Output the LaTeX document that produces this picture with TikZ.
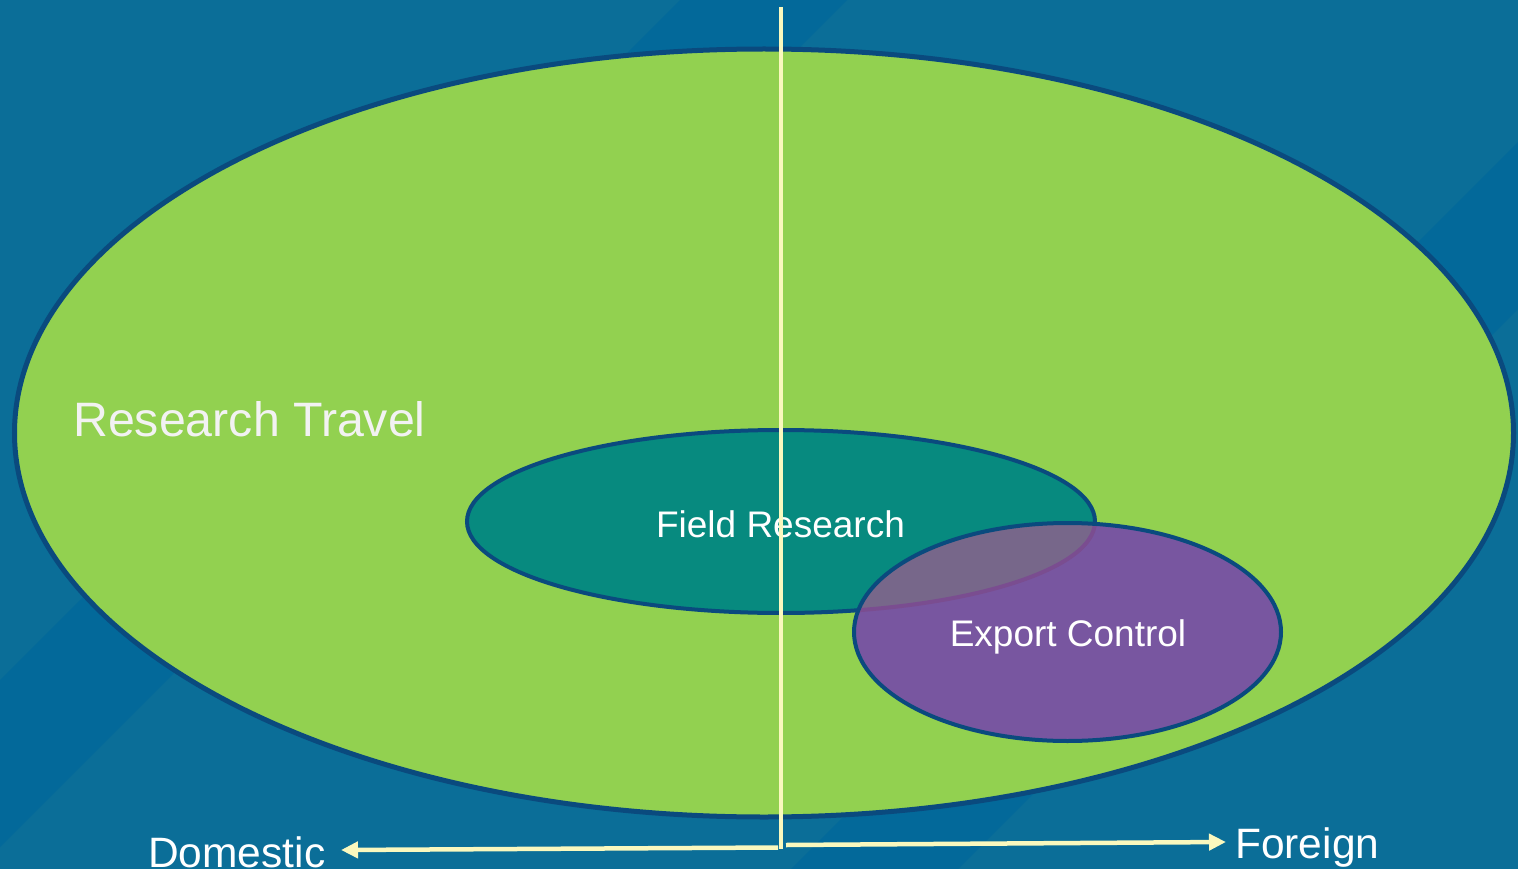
\documentclass[tikz,border=0pt]{standalone}
\usepackage{fontspec}
\setmainfont{Liberation Sans}
\usetikzlibrary{shapes.geometric,arrows.meta}
\definecolor{bgc}{HTML}{0B6E98}
\definecolor{bandc}{HTML}{03699A}
\definecolor{outl}{HTML}{0A4A7E}
\definecolor{greenc}{HTML}{92D150}
\definecolor{tealc}{HTML}{078A7F}
\definecolor{purplec}{HTML}{7856A0}
\definecolor{overc}{HTML}{77678A}
\definecolor{overline}{HTML}{7A4D90}
\definecolor{creamc}{HTML}{FAF8BE}
\definecolor{offwhite}{HTML}{F2F2F2}
\tikzset{
  blob/.style={ellipse, draw=outl, inner sep=0pt, outer sep=0pt},
  guide/.style={draw=creamc, line width=4.5pt},
  axisarrow/.style={guide, -{Triangle[length=17pt,width=16pt]}},
  bigtext/.style={text=offwhite, inner sep=0pt, font=\fontsize{48.3}{51}\selectfont},
  midtext/.style={text=white, inner sep=0pt, font=\fontsize{37}{40}\selectfont},
  axistext/.style={text=white, inner sep=0pt, font=\fontsize{42.5}{45}\selectfont},
}
\begin{document}
\begin{tikzpicture}[x=1pt,y=-1pt]
\useasboundingbox (0,0) rectangle (1518,869);
% background
\fill[bgc] (0,0) rectangle (1518,869);
\fill[bandc] (680,0) -- (847,0) -- (0,847) -- (0,680) -- cycle;
\fill[bandc] (791,869) -- (958,869) -- (1518,309) -- (1518,142) -- cycle;
% ellipses
\node[blob, fill=greenc, line width=5pt, minimum width=1499pt, minimum height=768pt] (rt) at (764,433) {};
\node[blob, fill=tealc, line width=4pt, minimum width=628pt, minimum height=183pt] (fr) at (781,521.5) {};
\node[blob, fill=purplec, draw=none, minimum width=427pt, minimum height=218pt] (ec) at (1067.5,632) {};
\begin{scope}
  \clip (781,521.5) ellipse [x radius=314, y radius=91.5];
  \fill[overc] (1067.5,632) ellipse [x radius=213.5, y radius=109];
\end{scope}
\begin{scope}
  \clip (1067.5,632) ellipse [x radius=213.5, y radius=109];
  \draw[overline, line width=4pt] (781,521.5) ellipse [x radius=314, y radius=91.5];
\end{scope}
\draw[outl, line width=4pt] (1067.5,632) ellipse [x radius=213.5, y radius=109];
% texts
\node[bigtext, anchor=base west] (rtl) at (73,436) {Research Travel};
\node[midtext, anchor=base] (frl) at (780.5,537) {Field Research};
\node[midtext, anchor=base] (ecl) at (1068,646) {Export Control};
\node[axistext, anchor=base west] (dom) at (148,867) {Domestic};
\node[axistext, anchor=base west] (for) at (1235,858) {Foreign};
% guides
\coordinate (vtop) at (781,7);
\coordinate (vbot) at (781,849);
\coordinate (lstart) at (778,847.5);
\coordinate (ltip) at (341,850);
\coordinate (rstart) at (786,845);
\coordinate (rtip) at (1226,842);
\draw[guide] (vtop) -- (vbot);
\draw[axisarrow] (lstart) -- (ltip);
\draw[axisarrow] (rstart) -- (rtip);
\end{tikzpicture}
\end{document}
